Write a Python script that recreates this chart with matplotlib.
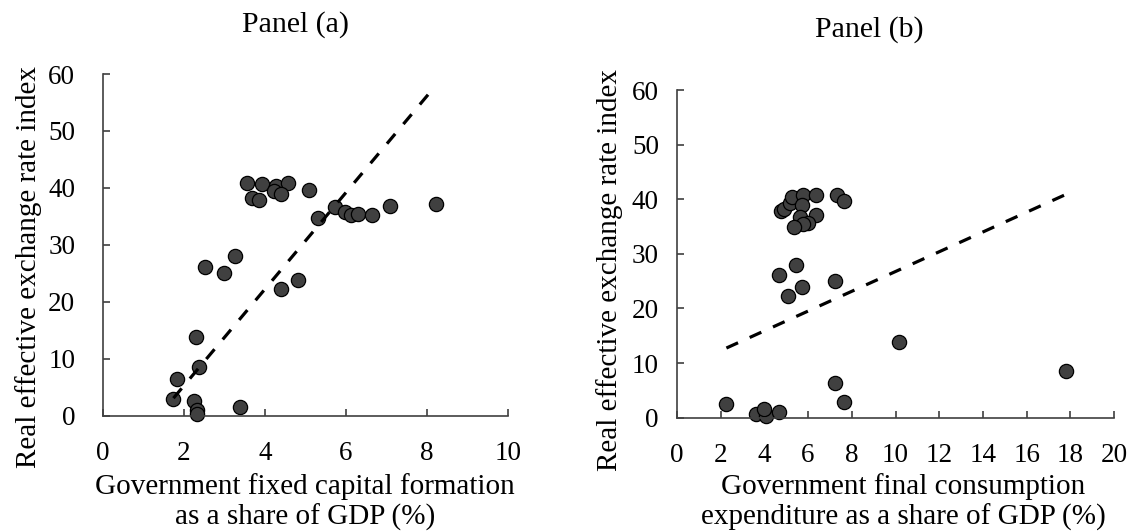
import matplotlib
matplotlib.use('Agg')
from matplotlib import pyplot as plt
import numpy as np

# Panel (a): government fixed capital formation (% of GDP) vs REER index
gfcf_share = [3.56, 3.92, 4.27, 4.58, 4.23, 4.39, 3.68, 3.85, 5.09, 5.73,
              5.32, 5.98, 6.13, 6.29, 6.64, 7.09, 8.22, 2.53, 2.99, 3.27,
              4.39, 4.81, 2.29, 2.37, 1.84, 1.74, 2.26, 2.31, 2.31, 3.38]
reer_a = [40.8, 40.7, 40.3, 40.8, 39.5, 38.9, 38.2, 37.8, 39.6, 36.7,
          34.8, 35.7, 35.2, 35.4, 35.2, 36.8, 37.1, 26.1, 25.0, 28.0,
          22.3, 23.8, 13.9, 8.6, 6.4, 2.9, 2.5, 1.0, 0.3, 1.6]
trend_a = (8.47, -11.66)  # slope, intercept

# Panel (b): government final consumption expenditure (% of GDP) vs REER index
gfce_share = [2.26, 3.60, 4.06, 3.97, 4.67, 7.22, 7.65, 10.17, 17.80, 4.67,
              5.44, 5.10, 5.73, 7.22, 4.76, 4.90, 5.16, 5.24, 5.77, 6.34,
              5.73, 5.62, 6.34, 6.00, 5.77, 5.36, 7.30, 7.63]
reer_b = [2.5, 0.6, 0.4, 1.6, 1.0, 6.4, 2.9, 13.9, 8.5, 26.1,
          28.0, 22.3, 23.9, 25.1, 37.8, 38.3, 39.4, 40.5, 40.8, 40.7,
          39.0, 36.8, 37.1, 35.6, 35.5, 35.0, 40.8, 39.6]
trend_b = (1.81, 8.67)

ylabel = 'Real effective exchange rate index'

plt.rcParams['font.family'] = ['Liberation Serif', 'DejaVu Serif']
plt.rcParams['font.size'] = 19.5


def panel(ax, x, y, trend, xmax, xstep, xlabel):
    x = np.array(x)
    xs = np.array([x.min(), x.max()])
    ax.plot(xs, trend[0] * xs + trend[1], color='black', lw=2.3,
            linestyle=(0, (4, 4)), zorder=3)
    ax.scatter(x, y, s=105, color='#404040', edgecolors='black',
               linewidths=0.9, zorder=2, clip_on=False)
    ax.set_xlim(0, xmax)
    ax.set_ylim(0, 60)
    ax.set_xticks(np.arange(0, xmax + 0.1, xstep))
    ax.set_yticks(np.arange(0, 61, 10))
    for s in ['top', 'right']:
        ax.spines[s].set_visible(False)
    for s in ['left', 'bottom']:
        ax.spines[s].set_color('#404040')
        ax.spines[s].set_linewidth(1.2)
    ax.tick_params(direction='in', length=5, width=1.2, color='#404040')
    ax.set_xlabel(xlabel, fontsize=21, linespacing=1.15)
    ax.set_ylabel(ylabel, fontsize=21)
    return ax


fig = plt.figure(figsize=(11.31, 5.32), dpi=100)
ax1 = fig.add_axes([0.0911, 0.2186, 0.3578, 0.6423])
ax2 = fig.add_axes([0.5986, 0.2148, 0.3864, 0.6160])

panel(ax1, gfcf_share, reer_a, trend_a, 10, 2,
      'Government fixed capital formation\nas a share of GDP (%)')
panel(ax2, gfce_share, reer_b, trend_b, 20, 2,
      'Government final consumption\nexpenditure as a share of GDP (%)')

ax1.tick_params(axis='y', pad=20)
ax1.tick_params(axis='x', pad=18)
ax2.tick_params(axis='y', pad=13)
ax2.tick_params(axis='x', pad=18)

ax1.yaxis.set_label_coords(-0.151, 0.435)
ax2.yaxis.set_label_coords(-0.124, 0.45)
ax1.xaxis.set_label_coords(0.5, -0.168)
ax2.xaxis.set_label_coords(0.517, -0.17)

fig.text(295 / 1131, 1 - 25 / 532, 'Panel (a)', ha='center', va='center', fontsize=21.5)
fig.text(869 / 1131, 1 - 30 / 532, 'Panel (b)', ha='center', va='center', fontsize=21.5)

fig.savefig('out.png', dpi=100)
